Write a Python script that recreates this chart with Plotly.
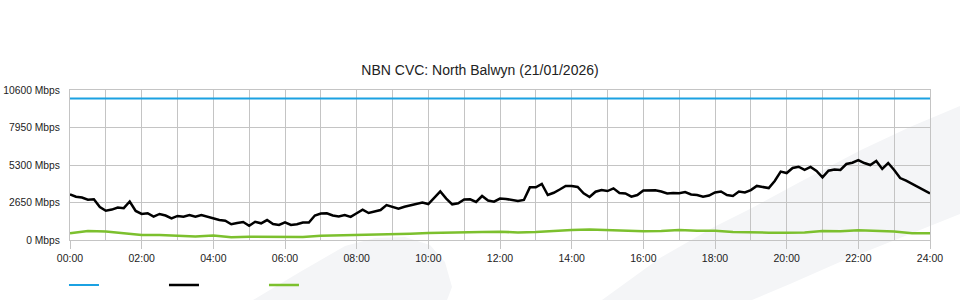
import plotly.graph_objects as go

# ---------------- data ----------------
title_text = "NBN CVC: North Balwyn (21/01/2026)"

# capacity line (Mbps)
capacity_hours = [0, 24]
capacity_mbps = [10000, 10000]

# black series, 10-minute samples (hours from midnight)
usage_hours = [i / 6 for i in range(145)]
usage_mbps = [
    3230, 3060, 3000, 2850, 2880, 2330, 2070, 2150, 2300, 2250,
    2720, 2050, 1840, 1890, 1650, 1840, 1730, 1530, 1700, 1650,
    1770, 1650, 1770, 1650, 1530, 1410, 1360, 1110, 1200, 1270,
    1010, 1290, 1180, 1410, 1130, 1060, 1250, 1060, 1110, 1240,
    1240, 1730, 1870, 1890, 1730, 1670, 1770, 1630, 1890, 2150,
    1910, 2010, 2120, 2470, 2330, 2210, 2350, 2440, 2510, 2640,
    2540, 2970, 3430, 2930, 2520, 2590, 2860, 2880, 2690, 3110,
    2790, 2710, 2930, 2900, 2810, 2760, 2830, 3720, 3720, 3960,
    3180, 3340, 3570, 3820, 3820, 3750, 3300, 3040, 3410, 3530,
    3460, 3650, 3320, 3290, 3060, 3180, 3500, 3510, 3510, 3430,
    3290, 3320, 3300, 3390, 3220, 3180, 3060, 3140, 3360, 3430,
    3180, 3110, 3430, 3360, 3530, 3820, 3720, 3670, 4170, 4830,
    4730, 5090, 5180, 4950, 5160, 4880, 4430, 4900, 4980, 4950,
    5370, 5460, 5650, 5440, 5300, 5580, 5020, 5440, 4950, 4380,
    4190, 3960, 3770, 3480, 3290,
]

# green series, 30-minute samples
green_hours = [j / 2 for j in range(49)]
green_mbps = [
    470, 640, 600, 460, 350, 350, 320, 250, 320, 190,
    230, 230, 210, 210, 300, 320, 350, 390, 420, 450,
    490, 530, 540, 570, 590, 530, 570, 660, 710, 740,
    710, 640, 610, 640, 710, 660, 660, 570, 520, 520,
    520, 530, 640, 610, 690, 670, 600, 470, 470,
]

y_ticks = [0, 2650, 5300, 7950, 10600]
y_ticktext = ["0 Mbps", "2650 Mbps", "5300 Mbps", "7950 Mbps", "10600 Mbps"]
x_ticks = list(range(0, 25, 2))
x_ticktext = ["%02d:00" % h for h in x_ticks]

# ---------------- figure ----------------
W, H = 960, 300
L, R, T, B = 70, 30, 90, 60
PW, PH = W - L - R, H - T - B


def px2paper(x, y):
    return (x - L) / PW, (H - B - y) / PH


def path_from_px(points):
    parts = []
    for k, (x, y) in enumerate(points):
        px, py = px2paper(x, y)
        parts.append(("M" if k == 0 else "L") + f"{px:.4f},{py:.4f}")
    return " ".join(parts) + " Z"


fig = go.Figure()

fig.add_trace(go.Scatter(x=capacity_hours, y=capacity_mbps, mode="lines",
                         name="", line=dict(color="#1ba1e2", width=2),
                         hoverinfo="skip"))
fig.add_trace(go.Scatter(x=usage_hours, y=usage_mbps, mode="lines",
                         name="", line=dict(color="#000000", width=2.5),
                         hoverinfo="skip"))
fig.add_trace(go.Scatter(x=green_hours, y=green_mbps, mode="lines",
                         name="", line=dict(color="#7cc02e", width=2.5),
                         hoverinfo="skip"))

# faint decorative background swooshes
swoosh_fill = "#f4f5f7"
left_blade = [(253, 300), (300, 272), (345, 246), (375, 238), (405, 237),
              (430, 245), (445, 262), (452, 287), (447, 300)]
right_band = [(602, 300), (660, 258), (714, 227), (750, 209), (800, 182),
              (861, 150), (910, 127), (960, 106), (960, 214), (900, 238),
              (840, 262), (790, 284), (752, 300)]
for shape_pts in (left_blade, right_band):
    fig.add_shape(type="path", path=path_from_px(shape_pts), xref="paper",
                  yref="paper", fillcolor=swoosh_fill, line=dict(width=0),
                  layer="below")

grid_col = "#c4c4c4"
fig.update_layout(
    width=W, height=H,
    margin=dict(l=L, r=R, t=T, b=B, pad=0, autoexpand=False),
    paper_bgcolor="rgba(0,0,0,0)",
    plot_bgcolor="rgba(0,0,0,0)",
    font=dict(family="Liberation Sans, Arial, sans-serif", size=11, color="#222222"),
    title=dict(text=title_text, x=0.5, xanchor="center", y=1 - 70 / H,
               yanchor="middle", font=dict(size=14, color="#222222")),
    showlegend=True,
    legend=dict(orientation="h", x=-0.007, xanchor="left", y=(H - B - 285) / PH,
                yanchor="middle", entrywidth=55, entrywidthmode="pixels",
                bgcolor="rgba(0,0,0,0)", font=dict(size=11), itemclick=False,
                tracegroupgap=0),
    xaxis=dict(range=[0, 24], tickmode="array", tickvals=x_ticks,
               ticktext=x_ticktext, showgrid=True, gridcolor=grid_col,
               gridwidth=1, zeroline=False, showline=True, linecolor=grid_col,
               mirror=True, ticks="outside", ticklen=8, tickcolor=grid_col,
               minor=dict(dtick=1, showgrid=True, gridcolor=grid_col, ticks=""),
               tickfont=dict(size=10.5, color="#222222"), fixedrange=True,
               automargin=False),
    yaxis=dict(range=[0, 10600], tickmode="array", tickvals=y_ticks,
               ticktext=y_ticktext, showgrid=True, gridcolor=grid_col,
               gridwidth=1, zeroline=False, showline=True, linecolor=grid_col,
               mirror=True, ticks="outside", ticklen=7,
               tickcolor="rgba(0,0,0,0)",
               tickfont=dict(size=10.3, color="#222222"), fixedrange=True,
               automargin=False),
)

fig.write_html("out.html")
